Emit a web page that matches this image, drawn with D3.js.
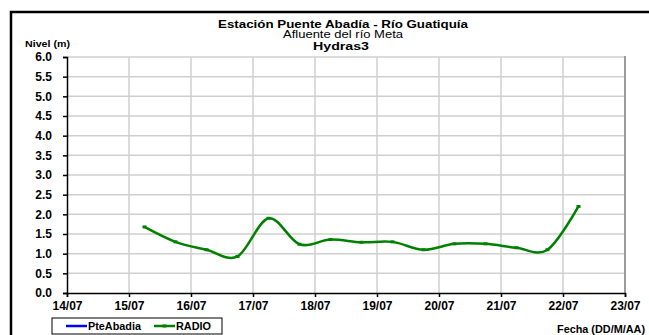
<!DOCTYPE html>
<html>
<head>
<meta charset="utf-8">
<script src="https://cdn.jsdelivr.net/npm/d3@7/dist/d3.min.js"></script>
<style>
  html, body { margin: 0; padding: 0; background: #fff; }
  svg { display: block; font-family: "Liberation Sans", Arial, sans-serif; }
  text { font-weight: bold; fill: #000; }
</style>
</head>
<body>
<svg id="chart" width="649" height="335"></svg>
<script>
// Level readings, every 12 hours (06:00 and 18:00)
const radioTimes = [
  "15/07 06:00", "15/07 18:00", "16/07 06:00", "16/07 18:00",
  "17/07 06:00", "17/07 18:00", "18/07 06:00", "18/07 18:00",
  "19/07 06:00", "19/07 18:00", "20/07 06:00", "20/07 18:00",
  "21/07 06:00", "21/07 18:00", "22/07 06:00"
];
const radioLevels = [1.68, 1.30, 1.10, 0.93, 1.90, 1.24, 1.36, 1.29, 1.30, 1.10, 1.25, 1.25, 1.15, 1.10, 2.20];
// The PteAbadia sensor has no readings in this period
const pteAbadiaTimes = [];
const pteAbadiaLevels = [];

const xTickLabels = ["14/07", "15/07", "16/07", "17/07", "18/07", "19/07", "20/07", "21/07", "22/07", "23/07"];
const yTickValues = [0, 0.5, 1, 1.5, 2, 2.5, 3, 3.5, 4, 4.5, 5, 5.5, 6];

const titleLines = ["Estación Puente Abadía  - Río Guatiquía", "Afluente del río Meta", "Hydras3"];

const YEAR = 2012;
const parseStamp = s => {
  const [d, t] = s.split(" ");
  const [dd, mm] = d.split("/").map(Number);
  const [hh, mi] = (t || "00:00").split(":").map(Number);
  return new Date(YEAR, mm - 1, dd, hh, mi);
};

const radio = radioTimes.map((t, i) => ({ date: parseStamp(t), value: radioLevels[i] }));
const pte = pteAbadiaTimes.map((t, i) => ({ date: parseStamp(t), value: pteAbadiaLevels[i] }));
const xTicks = xTickLabels.map(l => parseStamp(l));

const svg = d3.select("#chart");
const plot = { left: 67, right: 625, top: 57, bottom: 293 };

const x = d3.scaleTime()
  .domain([xTicks[0], xTicks[xTicks.length - 1]])
  .range([plot.left, plot.right]);
const y = d3.scaleLinear().domain([0, 6]).range([plot.bottom, plot.top]);

// Wide, Excel-style lettering: stretch a text to a given width
const widen = (sel, w) => sel.attr("textLength", w).attr("lengthAdjust", "spacingAndGlyphs");

// Outer chart frame
svg.append("rect")
  .attr("x", 11).attr("y", 12)
  .attr("width", 700).attr("height", 400)
  .attr("fill", "#fff").attr("stroke", "#000").attr("stroke-width", 2.5);

// Titles
const titleG = svg.append("g").attr("text-anchor", "middle");
widen(titleG.append("text").attr("x", 343).attr("y", 27.5).style("font-size", "11px").text(titleLines[0]), 250);
widen(titleG.append("text").attr("x", 343).attr("y", 38).style("font-size", "10px").style("font-weight", "normal").text(titleLines[1]), 120);
widen(titleG.append("text").attr("x", 341).attr("y", 49.5).style("font-size", "11px").text(titleLines[2]), 56);

// Gridlines
const grid = svg.append("g").attr("stroke", "#cfcfcf").attr("stroke-width", 1.5);
grid.selectAll("line.h").data(yTickValues.slice(1)).join("line")
  .attr("x1", plot.left).attr("x2", plot.right)
  .attr("y1", d => y(d)).attr("y2", d => y(d));
grid.selectAll("line.v").data(xTicks.slice(1, -1)).join("line")
  .attr("y1", plot.top).attr("y2", plot.bottom)
  .attr("x1", d => x(d)).attr("x2", d => x(d));

// Plot area right edge
svg.append("line")
  .attr("x1", plot.right).attr("x2", plot.right)
  .attr("y1", plot.top - 1).attr("y2", plot.bottom)
  .attr("stroke", "#9a9a9a").attr("stroke-width", 2);

// Axes
const yAxis = d3.axisLeft(y).tickValues(yTickValues).tickFormat(d3.format(".1f")).tickSize(4).tickPadding(11);
const yG = svg.append("g").attr("transform", `translate(${plot.left},0)`).call(yAxis);
yG.select(".domain").attr("stroke-width", 1.5);
yG.selectAll(".tick line").attr("stroke-width", 1.5);
yG.selectAll("text").style("font-size", "12px").style("font-family", "'Liberation Sans', Arial, sans-serif");

const xAxis = d3.axisBottom(x).tickValues(xTicks).tickFormat((d, i) => xTickLabels[i]).tickSize(4).tickPadding(4);
const xG = svg.append("g").attr("transform", `translate(0,${plot.bottom})`).call(xAxis);
xG.select(".domain").attr("stroke-width", 1.5);
xG.selectAll(".tick line").attr("stroke-width", 1.5);
xG.selectAll("text").style("font-size", "12px").style("font-family", "'Liberation Sans', Arial, sans-serif");

// Axis titles
widen(svg.append("text").attr("x", 25).attr("y", 47).style("font-size", "9.5px").text("Nivel (m)"), 45);
widen(svg.append("text").attr("x", 557).attr("y", 333).style("font-size", "10px").text("Fecha (DD/M/AA)"), 88);

// Series
const line = d3.line().x(d => x(d.date)).y(d => y(d.value)).curve(d3.curveCatmullRom.alpha(0));
svg.append("path").datum(pte).attr("d", line).attr("fill", "none").attr("stroke", "#0000ff").attr("stroke-width", 2.5);
svg.append("path").datum(radio).attr("d", line)
  .attr("fill", "none").attr("stroke", "#008000").attr("stroke-width", 2.5);
svg.append("g").selectAll("rect").data(radio).join("rect")
  .attr("x", d => x(d.date) - 2).attr("y", d => y(d.value) - 1.5)
  .attr("width", 4).attr("height", 3).attr("fill", "#008000");

// Legend
const lg = svg.append("g");
lg.append("rect").attr("x", 52).attr("y", 318).attr("width", 170).attr("height", 16)
  .attr("fill", "#fff").attr("stroke", "#000").attr("stroke-width", 1);
lg.append("line").attr("x1", 66).attr("x2", 87).attr("y1", 326).attr("y2", 326)
  .attr("stroke", "#0000ff").attr("stroke-width", 2.5);
widen(lg.append("text").attr("x", 88).attr("y", 330).style("font-size", "10px").text("PteAbadia"), 53);
lg.append("line").attr("x1", 154).attr("x2", 175).attr("y1", 326).attr("y2", 326)
  .attr("stroke", "#008000").attr("stroke-width", 2.5);
lg.append("rect").attr("x", 162.5).attr("y", 324.5).attr("width", 4).attr("height", 3).attr("fill", "#008000");
widen(lg.append("text").attr("x", 176).attr("y", 330).style("font-size", "10px").text("RADIO"), 35);
</script>
</body>
</html>
